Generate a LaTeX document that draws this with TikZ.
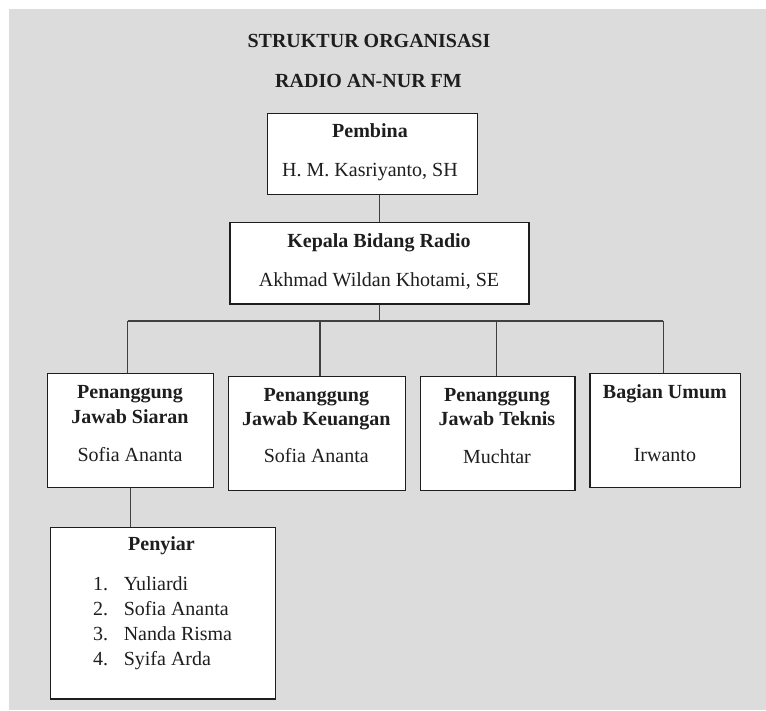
\documentclass[tikz,border=0pt]{standalone}
\usepackage{fontspec}
\setmainfont{Liberation Serif}
\definecolor{bggray}{HTML}{DCDCDC}
\definecolor{ink}{HTML}{1E1E1E}
\begin{document}
\begin{tikzpicture}[x=1pt,y=-1pt,
  box/.style={draw=ink, line width=1.3pt, fill=white, inner sep=0pt, anchor=center},
  txt/.style={inner sep=0pt, anchor=base, text=ink, font=\fontsize{20}{25}\selectfont},
  btxt/.style={txt, font=\fontsize{20}{25}\selectfont\bfseries},
  ltxt/.style={txt, anchor=base west},
  conn/.style={draw=ink!85, line width=1.1pt}]
\useasboundingbox (0,0) rectangle (766,711);
\fill[bggray] (9,9.5) rectangle (766,710);
% titles
\node[btxt] (title1) at (369,48) {STRUKTUR ORGANISASI};
\node[btxt] (title2) at (368.5,88) {RADIO AN-NUR FM};
% boxes
\node[box, minimum width=209.6pt, minimum height=81.4pt] (pembina) at (372.5,154) {};
\node[box, minimum width=299pt, minimum height=81.3pt] (kepala) at (379.5,263.3) {};
\node[box, minimum width=166pt, minimum height=113.6pt] (siaran) at (130.5,430.5) {};
\node[box, minimum width=177pt, minimum height=113.6pt] (keuangan) at (317,433.5) {};
\node[box, minimum width=154.4pt, minimum height=113.6pt] (teknis) at (497.8,433.5) {};
\node[box, minimum width=150.6pt, minimum height=113.6pt] (umum) at (665.3,430.5) {};
\node[box, minimum width=225pt, minimum height=171.3pt] (penyiar) at (162.8,613.3) {};
% connectors
\draw[conn] (kepala.north) -- (kepala.north |- pembina.south);
\coordinate (busL) at (127.5,321);
\coordinate (busR) at (663.4,321);
\coordinate (bus2) at (320,321);
\coordinate (bus3) at (496.8,321);
\coordinate (busM) at (379.5,321);
\draw[conn] (kepala.south) -- (busM);
\draw[conn] (busL) -- (busR);
\draw[conn] (busL) -- (busL |- siaran.north);
\draw[conn] (bus2) -- (bus2 |- keuangan.north);
\draw[conn] (bus3) -- (bus3 |- teknis.north);
\draw[conn] (busR) -- (busR |- umum.north);
\draw[conn] (siaran.south) -- (siaran.south |- penyiar.north);
% texts
\node[btxt] (pembinaT) at (370,138) {Pembina};
\node[txt] (pembinaN) at (370,177) {H. M. Kasriyanto, SH};
\node[btxt] (kepalaT) at (379,248) {Kepala Bidang Radio};
\node[txt] (kepalaN) at (379,287) {Akhmad Wildan Khotami, SE};
\node[btxt] (siaranT1) at (130,398.3) {Penanggung};
\node[btxt] (siaranT2) at (130,423) {Jawab Siaran};
\node[txt] (siaranN) at (130,461.7) {Sofia Ananta};
\node[btxt] (keuT1) at (316.3,401.7) {Penanggung};
\node[btxt] (keuT2) at (316.3,425) {Jawab Keuangan};
\node[txt] (keuN) at (316.3,462.3) {Sofia Ananta};
\node[btxt] (tekT1) at (497,401.7) {Penanggung};
\node[btxt] (tekT2) at (497,425) {Jawab Teknis};
\node[txt] (tekN) at (497,463) {Muchtar};
\node[btxt] (umumT) at (664.9,398.3) {Bagian Umum};
\node[txt] (umumN) at (664.9,461.7) {Irwanto};
\node[btxt] (penyiarT) at (161.5,550.7) {Penyiar};
\node[ltxt] (n1) at (92.8,590) {1.};
\node[ltxt] (n2) at (92.8,615) {2.};
\node[ltxt] (n3) at (92.8,640) {3.};
\node[ltxt] (n4) at (92.8,665) {4.};
\node[ltxt] (p1) at (123.6,590) {Yuliardi};
\node[ltxt] (p2) at (123.6,615) {Sofia Ananta};
\node[ltxt] (p3) at (123.6,640) {Nanda Risma};
\node[ltxt] (p4) at (123.6,665) {Syifa Arda};
\end{tikzpicture}
\end{document}
